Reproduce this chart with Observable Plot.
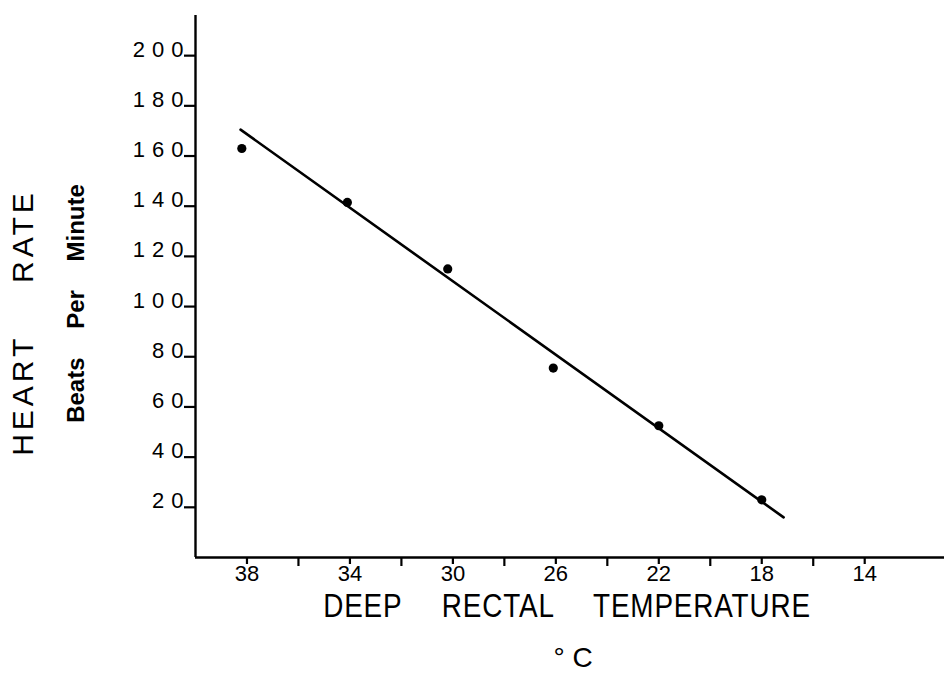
<!DOCTYPE html>
<html>
<head>
<meta charset="utf-8">
<script src="https://cdn.jsdelivr.net/npm/d3@7"></script>
<script src="https://cdn.jsdelivr.net/npm/@observablehq/plot@0.6"></script>
<style>
  html, body { margin: 0; padding: 0; background: #fff; }
  #chart { width: 944px; height: 677px; }
</style>
</head>
<body>
<div id="chart"></div>
<script>
// Data
const temps = [38.2, 34.1, 30.2, 26.1, 22.0, 18.0];
const rates = [163, 141.5, 115, 75.5, 52.5, 23];
// hand-fitted line endpoints
const fitTemps = [38.25, 17.15];
const fitRates = [170.5, 16];
// ticks
const xMajorTicks = [38, 34, 30, 26, 22, 18, 14];
const xMinorTicks = [36, 32, 28, 24, 20, 16];
const yTicks = [20, 40, 60, 80, 100, 120, 140, 160, 180, 200];
// texts
const xTitle = "DEEP RECTAL TEMPERATURE";
const xUnit = "° C";
const yTitle = "HEART RATE";
const ySubtitle = "Beats Per Minute";

const points = temps.map((t, i) => ({t, r: rates[i]}));
const fit = fitTemps.map((t, i) => ({t, r: fitRates[i]}));

const font = "'Liberation Sans', Arial, sans-serif";

const chart = Plot.plot({
  width: 944,
  height: 677,
  marginTop: 15,
  marginBottom: 120,
  marginLeft: 195,
  marginRight: 0,
  style: {fontFamily: font, fontSize: "21px", color: "black", background: "white", overflow: "visible"},
  x: {domain: [40, 10.9], label: null},
  y: {domain: [0, 216], label: null},
  marks: [
    Plot.ruleX([40], {stroke: "black", strokeWidth: 2.4}),
    Plot.ruleY([0], {stroke: "black", strokeWidth: 2.4}),
    Plot.axisX({ticks: xMajorTicks, tickSize: 7, strokeWidth: 2.2, tickFormat: () => ""}),
    Plot.axisX({ticks: xMinorTicks, tickSize: 9, strokeWidth: 2.2, tickFormat: () => ""}),
    Plot.axisY({ticks: yTicks, tickSize: 11, strokeWidth: 2.2, tickFormat: () => ""}),
    Plot.text(xMajorTicks, {x: d => d, text: d => String(d), frameAnchor: "bottom", textAnchor: "middle", lineAnchor: "top", dy: 8, fontSize: 22, ariaDescription: "xlabels"}),
    Plot.text(yTicks, {y: d => d, text: d => String(d), frameAnchor: "left", textAnchor: "end", lineAnchor: "bottom", dx: -5, dy: 1, fontSize: 22, ariaDescription: "ylabels"}),
    Plot.line(fit, {x: "t", y: "r", stroke: "black", strokeWidth: 2.6}),
    Plot.dot(points, {x: "t", y: "r", r: 4.6, fill: "black"}),
    Plot.text([xTitle], {frameAnchor: "bottom", textAnchor: "middle", dx: -3, dy: 59, fontSize: 33, ariaDescription: "xtitle"}),
    Plot.text([xUnit], {frameAnchor: "bottom", textAnchor: "middle", dx: 3, dy: 109, fontSize: 28, ariaDescription: "xunit"}),
    Plot.text([yTitle], {frameAnchor: "left", textAnchor: "middle", rotate: -90, dx: -172, dy: 36, fontSize: 30, ariaDescription: "ytitle"}),
    Plot.text([ySubtitle], {frameAnchor: "left", textAnchor: "middle", rotate: -90, dx: -119, dy: 17, fontSize: 24, fontWeight: "bold", ariaDescription: "ysub"})
  ]
});

document.getElementById("chart").appendChild(chart);

const svg = d3.select(chart);
svg.selectAll('g[aria-description="ylabels"] text').style("letter-spacing", "7px");
svg.selectAll('g[aria-description="ytitle"] text').style("letter-spacing", "4px").style("word-spacing", "40px");
svg.selectAll('g[aria-description="ysub"] text').style("word-spacing", "22px");
svg.selectAll('g[aria-description="xtitle"] text').style("letter-spacing", "1px").style("word-spacing", "37px");

// condense the x title horizontally, around its own centre
svg.selectAll('g[aria-description="xtitle"]').each(function() {
  const bb = this.getBBox();
  const cx = bb.x + bb.width / 2;
  const t = this.getAttribute("transform") || "";
  this.setAttribute("transform", `${t} translate(${cx},0) scale(0.845,1) translate(${-cx},0)`);
});
</script>
</body>
</html>
